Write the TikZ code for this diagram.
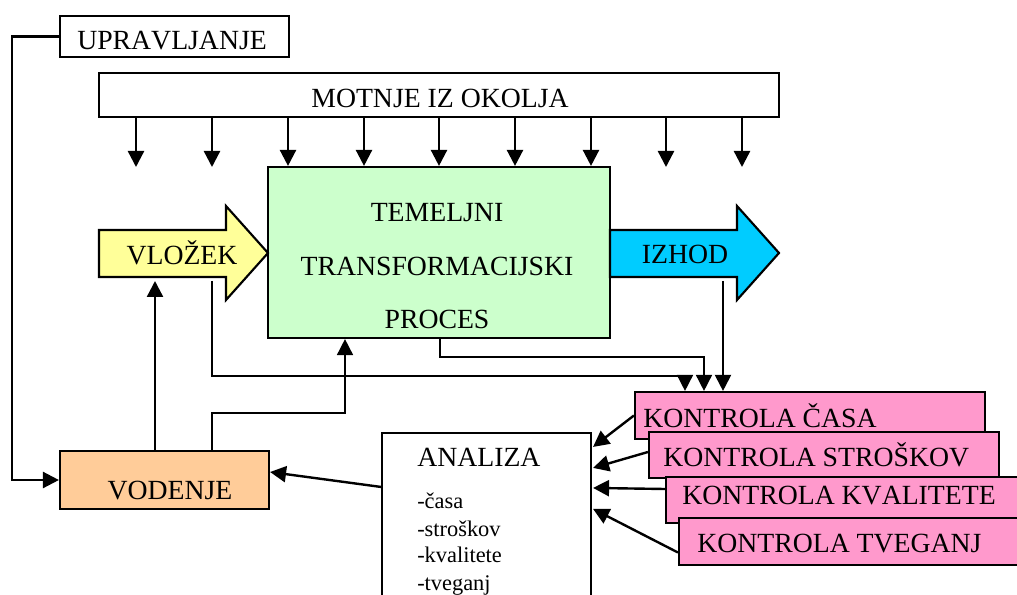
\documentclass[tikz,border=0pt]{standalone}
\usepackage{fontspec}
\setmainfont{Liberation Serif}[Kerning=Off]
\usetikzlibrary{arrows.meta,calc}
\definecolor{cyel}{HTML}{FFFF99}
\definecolor{ccyan}{HTML}{00CCFF}
\definecolor{cgreen}{HTML}{CCFFCC}
\definecolor{corange}{HTML}{FFCC99}
\definecolor{cpink}{HTML}{FF99CC}
\begin{document}
\begin{tikzpicture}[x=0.75pt,y=-0.75pt,
  box/.style={draw=black, line width=1.6pt, inner sep=0pt},
  sz/.style 2 args={minimum width=#1*0.75pt, minimum height=#2*0.75pt},
  lbl/.style={inner sep=0pt, font=\fontsize{20.8pt}{24pt}\selectfont},
  sm/.style={inner sep=0pt, font=\fontsize{16.8pt}{20pt}\selectfont},
  tip/.style={-{Triangle[length=12pt,width=12pt]}},
  thk/.style={line width=1.8pt},
  thn/.style={line width=1.2pt}]
\clip (0,0) rectangle (1017,595);
% boxes
\node[box, fill=white, sz={229}{41}] (upr) at (174.5,36.5) {};
\node[lbl, anchor=base west] (tupr) at (77,50) {UPRAVLJANJE};
\node[box, fill=white, sz={680}{44}] (mot) at (439,95) {};
\node[lbl, anchor=base] (tmot) at (440,108) {MOTNJE IZ OKOLJA};
\node[box, fill=cgreen, sz={342}{171}] (tp) at (439,252.5) {};
\node[lbl, anchor=base] (tp1) at (437,222) {TEMELJNI};
\node[lbl, anchor=base] (tp2) at (437,276) {TRANSFORMACIJSKI};
\node[lbl, anchor=base] (tp3) at (437,328) {PROCES};
% block arrows
\draw[box, fill=cyel] (99,230) -- (226,230) -- (226,206) -- (268,253) -- (226,300) -- (226,277) -- (99,277) -- cycle;
\node[lbl, anchor=base] (tvl) at (182,265) {VLOŽEK};
\draw[box, fill=ccyan] (610,230) -- (737,230) -- (737,206) -- (779,253) -- (737,300) -- (737,277) -- (610,277) -- cycle;
\node[lbl, anchor=base] (tiz) at (685,264) {IZHOD};
\coordinate (vlb1) at (155,281);
\coordinate (vlb2) at (212,281);
\coordinate (izb) at (723,281);
% vodenje
\node[box, fill=corange, sz={209}{58}] (vod) at (164.5,480) {};
\node[lbl, anchor=base] (tvod) at (170,499) {VODENJE};
% analiza
\node[box, fill=white, sz={209}{187}] (an) at (486.5,526.5) {};
\node[lbl, anchor=base west] (tan) at (417,466) {ANALIZA};
\node[sm, anchor=base west] (a1) at (417,508) {-časa};
\node[sm, anchor=base west] (a2) at (417,536) {-stroškov};
\node[sm, anchor=base west] (a3) at (417,562) {-kvalitete};
\node[sm, anchor=base west] (a4) at (417,590) {-tveganj};
% kontrole
\node[box, fill=cpink, sz={350}{47}] (kc) at (810,415.5) {};
\node[lbl, anchor=base west] (tkc) at (643,427) {KONTROLA ČASA};
\node[box, fill=cpink, sz={350}{46}] (ks) at (824,455) {};
\node[lbl, anchor=base west] (tks) at (663,466) {KONTROLA STROŠKOV};
\node[box, fill=cpink, sz={352}{46}] (kk) at (842,500) {};
\node[lbl, anchor=base west] (tkk) at (682,504) {KONTROLA KVALITETE};
\node[box, fill=cpink, sz={352}{47}] (kt) at (855,541.5) {};
\node[lbl, anchor=base west] (tkt) at (697,552) {KONTROLA TVEGANJ};
% connectors
\draw[thk, tip] (upr.west) -- ++(-47,0) |- (vod.west);
\foreach \x in {136,212,666,742} \draw[thk,tip] (mot.south -| \x,0) -- (\x,167);
\foreach \x in {288,364,439,515,591} \draw[thk,tip] (mot.south -| \x,0) -- (tp.north -| \x,0);
\draw[thk,tip] (vod.north -| 155,0) -- (vlb1);
\draw[thn,tip] (vod.north -| 212,0) |- (345,413) -- (tp.south -| 345,0);
\draw[thn,tip] (vlb2) |- (685,376) -- (kc.north -| 685,0);
\draw[thn,tip] (tp.south -| 440,0) |- (704,357) -- (kc.north -| 704,0);
\draw[line width=1.5pt,tip] (izb) -- (kc.north -| 723,0);
\draw[thk,tip] (kc.west) -- ($(an.north east)+(1,15)$);
\draw[thk,tip] ($(ks.west)+(0,-3)$) -- ($(an.north east)+(1,36)$);
\draw[thk,tip] ($(kk.west)+(0,-11)$) -- ($(an.north east)+(1,56)$);
\draw[thk,tip] ($(kt.west)+(0,11)$) -- ($(an.north east)+(1,77)$);
\draw[thk,tip] ($(an.north west)+(0,55)$) -- ($(vod.east)+(0,-8)$);
\end{tikzpicture}
\end{document}
